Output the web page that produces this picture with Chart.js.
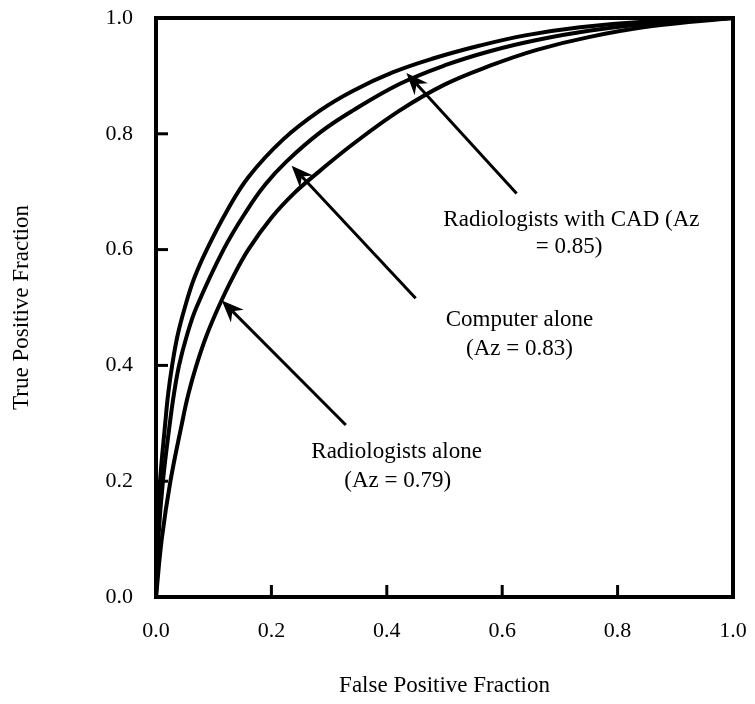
<!DOCTYPE html>
<html>
<head>
<meta charset="utf-8">
<script src="https://cdn.jsdelivr.net/npm/chart.js@4"></script>
<style>
  html, body { margin: 0; padding: 0; background: #fff; }
  #wrap { width: 755px; height: 704px; }
</style>
</head>
<body>
<div id="wrap"><canvas id="rocChart" width="755" height="704"></canvas></div>
<script>
// ROC curves (false positive fraction, true positive fraction)
const cadFpf = [0, 0.002, 0.007, 0.016, 0.021, 0.028, 0.037, 0.05, 0.066, 0.088, 0.122, 0.16, 0.22, 0.284, 0.341, 0.41, 0.48, 0.56, 0.64, 0.735, 0.85, 1];
const cadTpf = [0, 0.1, 0.2, 0.3, 0.35, 0.4, 0.45, 0.5, 0.55, 0.6, 0.665, 0.725, 0.79, 0.84, 0.874, 0.906, 0.93, 0.952, 0.97, 0.984, 0.994, 1];

const compFpf = [0, 0.004, 0.012, 0.024, 0.031, 0.04, 0.053, 0.07, 0.117, 0.157, 0.189, 0.226, 0.284, 0.341, 0.422, 0.5, 0.58, 0.66, 0.75, 0.86, 1];
const compTpf = [0, 0.1, 0.2, 0.3, 0.35, 0.4, 0.45, 0.5, 0.6, 0.667, 0.712, 0.752, 0.802, 0.84, 0.886, 0.918, 0.943, 0.962, 0.978, 0.991, 1];

const radFpf = [0, 0.01, 0.025, 0.045, 0.056, 0.07, 0.087, 0.108, 0.132, 0.16, 0.2, 0.24, 0.284, 0.341, 0.422, 0.5, 0.58, 0.66, 0.75, 0.86, 1];
const radTpf = [0, 0.1, 0.2, 0.3, 0.35, 0.4, 0.45, 0.5, 0.55, 0.6, 0.655, 0.698, 0.736, 0.782, 0.84, 0.885, 0.918, 0.945, 0.967, 0.986, 1];

const tickValues = [0, 0.2, 0.4, 0.6, 0.8, 1.0];

// annotation labels: text lines with their anchor in data units
const noteLines = [
    { text: 'Radiologists with CAD (Az', x: 0.720, y: 0.652 },
    { text: '= 0.85)', x: 0.716, y: 0.605 },
    { text: 'Computer alone', x: 0.630, y: 0.478 },
    { text: '(Az = 0.83)', x: 0.630, y: 0.429 },
    { text: 'Radiologists alone', x: 0.417, y: 0.250 },
    { text: '(Az = 0.79)', x: 0.419, y: 0.200 }
];

// arrows: tail -> tip, in data units
const arrows = [
    { x0: 0.625, y0: 0.697, x1: 0.434, y1: 0.905 },
    { x0: 0.450, y0: 0.516, x1: 0.235, y1: 0.745 },
    { x0: 0.329, y0: 0.297, x1: 0.114, y1: 0.512 }
];

function toPoints(xs, ys) {
    return xs.map((x, i) => ({ x: x, y: ys[i] }));
}

const FONT = '"Liberation Serif", "Times New Roman", serif';

const framePlugin = {
    id: 'frame',
    afterDatasetsDraw(chart) {
        const ctx = chart.ctx;
        const a = chart.chartArea;
        const xs = chart.scales.x, ys = chart.scales.y;
        ctx.save();
        ctx.strokeStyle = '#000';
        ctx.lineWidth = 4;
        ctx.lineJoin = 'miter';
        ctx.strokeRect(a.left, a.top, a.right - a.left, a.bottom - a.top);

        // inward tick marks on left and bottom
        ctx.lineWidth = 3;
        tickValues.forEach(v => {
            const px = xs.getPixelForValue(v);
            ctx.beginPath();
            ctx.moveTo(px, a.bottom);
            ctx.lineTo(px, a.bottom - 12);
            ctx.stroke();
            const py = ys.getPixelForValue(v);
            ctx.beginPath();
            ctx.moveTo(a.left, py);
            ctx.lineTo(a.left + 12, py);
            ctx.stroke();
        });

        // arrows
        arrows.forEach(ar => {
            const x0 = xs.getPixelForValue(ar.x0), y0 = ys.getPixelForValue(ar.y0);
            const x1 = xs.getPixelForValue(ar.x1), y1 = ys.getPixelForValue(ar.y1);
            const ang = Math.atan2(y1 - y0, x1 - x0);
            const len = 22, wid = 9, back = 15;
            const bx = x1 - Math.cos(ang) * back, by = y1 - Math.sin(ang) * back;
            ctx.lineWidth = 3;
            ctx.beginPath();
            ctx.moveTo(x0, y0);
            ctx.lineTo(bx, by);
            ctx.stroke();
            const cx = x1 - Math.cos(ang) * len, cy = y1 - Math.sin(ang) * len;
            const nx = -Math.sin(ang), ny = Math.cos(ang);
            ctx.beginPath();
            ctx.moveTo(x1, y1);
            ctx.lineTo(cx + nx * wid, cy + ny * wid);
            ctx.lineTo(bx, by);
            ctx.lineTo(cx - nx * wid, cy - ny * wid);
            ctx.closePath();
            ctx.fillStyle = '#000';
            ctx.fill();
        });

        // text notes
        ctx.font = '23px ' + FONT;
        ctx.fillStyle = '#000';
        ctx.textAlign = 'center';
        ctx.textBaseline = 'middle';
        noteLines.forEach(n => {
            ctx.fillText(n.text, xs.getPixelForValue(n.x), ys.getPixelForValue(n.y));
        });
        ctx.restore();
    }
};

const lineStyle = {
    borderColor: '#000',
    borderWidth: 4,
    pointRadius: 0,
    showLine: true,
    fill: false,
    tension: 0.4
};

new Chart(document.getElementById('rocChart').getContext('2d'), {
    type: 'scatter',
    data: {
        datasets: [
            Object.assign({ label: 'Radiologists with CAD', data: toPoints(cadFpf, cadTpf) }, lineStyle),
            Object.assign({ label: 'Computer alone', data: toPoints(compFpf, compTpf) }, lineStyle),
            Object.assign({ label: 'Radiologists alone', data: toPoints(radFpf, radTpf) }, lineStyle)
        ]
    },
    options: {
        responsive: false,
        animation: false,
        layout: { padding: { left: 0, right: 22, top: 18, bottom: 0 } },
        plugins: {
            legend: { display: false },
            tooltip: { enabled: false }
        },
        scales: {
            x: {
                type: 'linear',
                min: 0,
                max: 1,
                grid: { display: false, drawTicks: false },
                border: { display: false },
                afterBuildTicks: s => { s.ticks = tickValues.map(v => ({ value: v })); },
                afterFit: s => { s.height = 107; s.paddingLeft = 0; s.paddingRight = 0; },
                ticks: {
                    padding: 21,
                    color: '#000',
                    maxRotation: 0,
                    font: { family: FONT, size: 22 },
                    callback: v => v.toFixed(1)
                },
                title: {
                    display: true,
                    text: 'False Positive Fraction',
                    color: '#000',
                    font: { family: FONT, size: 23 },
                    padding: { top: 0, bottom: 4 }
                }
            },
            y: {
                type: 'linear',
                min: 0,
                max: 1,
                grid: { display: false, drawTicks: false },
                border: { display: false },
                afterBuildTicks: s => { s.ticks = tickValues.map(v => ({ value: v })); },
                afterFit: s => { s.width = 156; s.paddingTop = 0; s.paddingBottom = 0; },
                ticks: {
                    padding: 23,
                    color: '#000',
                    font: { family: FONT, size: 22 },
                    callback: v => v.toFixed(1)
                },
                title: {
                    display: true,
                    text: 'True Positive Fraction',
                    color: '#000',
                    font: { family: FONT, size: 23 },
                    padding: { top: 8, bottom: 0 }
                }
            }
        }
    },
    plugins: [framePlugin]
});
</script>
</body>
</html>
